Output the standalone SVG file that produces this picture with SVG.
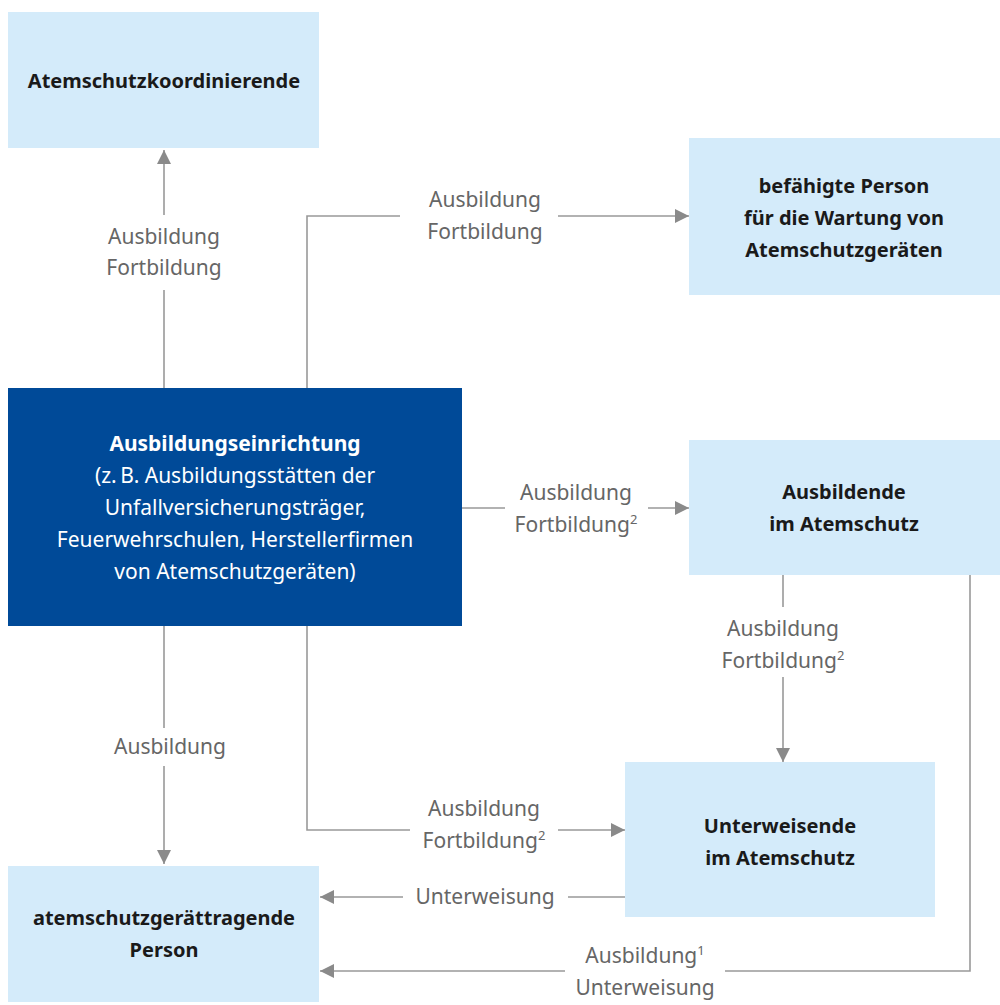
<svg xmlns="http://www.w3.org/2000/svg" width="1000" height="1005" viewBox="0 0 1000 1005">
<defs>
<marker id="ah" viewBox="0 0 14 14" refX="14" refY="7" markerWidth="14" markerHeight="14" markerUnits="userSpaceOnUse" orient="auto">
<path d="M0,0 L14,7 L0,14 z" fill="#8a8a8a"/>
</marker>
<style>
.box{fill:#d4ebfa}
.dark{fill:#004a98}
.nt{font-family:"Noto Sans","Open Sans",sans-serif;font-size:20px;font-weight:bold;fill:#1a1a1a;text-anchor:middle}
.wt{font-family:"Noto Sans","Open Sans",sans-serif;font-size:21px;fill:#ffffff;text-anchor:middle}
.wb{font-weight:bold}
.lb{font-family:"Noto Sans","Open Sans",sans-serif;font-size:21px;fill:#666666;text-anchor:middle}
.ln{fill:none;stroke:#999999;stroke-width:1.6}
.sup{font-size:13px}
</style>
</defs>
<rect width="1000" height="1005" fill="#ffffff"/>
<g id="n-koord">
<rect class="box" x="8" y="12" width="311" height="136"/>
<text class="nt" x="164" y="88">Atemschutzkoordinierende</text>
</g>
<g id="n-befaehigt">
<rect class="box" x="689" y="138" width="311" height="157"/>
<text class="nt" x="844" y="193">befähigte Person</text>
<text class="nt" x="844" y="225">für die Wartung von</text>
<text class="nt" x="844" y="257">Atemschutzgeräten</text>
</g>
<g id="n-einrichtung">
<rect class="dark" x="8" y="388" width="454" height="238"/>
<text class="wt wb" x="235" y="451">Ausbildungseinrichtung</text>
<text class="wt" x="235" y="483">(z.&#8201;B. Ausbildungsstätten der</text>
<text class="wt" x="235" y="515">Unfallversicherungsträger,</text>
<text class="wt" x="235" y="547">Feuerwehrschulen, Herstellerfirmen</text>
<text class="wt" x="235" y="579">von Atemschutzgeräten)</text>
</g>
<g id="n-ausbildende">
<rect class="box" x="689" y="440" width="311" height="135"/>
<text class="nt" x="844" y="499">Ausbildende</text>
<text class="nt" x="844" y="531">im Atemschutz</text>
</g>
<g id="n-unterweisende">
<rect class="box" x="625" y="762" width="310" height="155"/>
<text class="nt" x="780" y="833">Unterweisende</text>
<text class="nt" x="780" y="865">im Atemschutz</text>
</g>
<g id="n-traeger">
<rect class="box" x="8" y="866" width="311" height="136"/>
<text class="nt" x="164" y="925">atemschutzgerättragende</text>
<text class="nt" x="164" y="957">Person</text>
</g>
<g id="connectors">
<path class="ln" d="M164,388 V290"/>
<path class="ln" d="M164,215 V150" marker-end="url(#ah)"/>
<text class="lb" x="164" y="244">Ausbildung</text>
<text class="lb" x="164" y="275">Fortbildung</text>

<path class="ln" d="M307,388 V216 H400"/>
<path class="ln" d="M558,216 H689" marker-end="url(#ah)"/>
<text class="lb" x="485" y="207">Ausbildung</text>
<text class="lb" x="485" y="239">Fortbildung</text>

<path class="ln" d="M462,508 H505"/>
<path class="ln" d="M648,508 H689" marker-end="url(#ah)"/>
<text class="lb" x="576" y="500">Ausbildung</text>
<text class="lb" x="576" y="532">Fortbildung<tspan class="sup" dy="-8">2</tspan></text>

<path class="ln" d="M783,575 V607"/>
<path class="ln" d="M783,677 V762" marker-end="url(#ah)"/>
<text class="lb" x="783" y="636">Ausbildung</text>
<text class="lb" x="783" y="668">Fortbildung<tspan class="sup" dy="-8">2</tspan></text>

<path class="ln" d="M307,626 V830 H410"/>
<path class="ln" d="M558,830 H625" marker-end="url(#ah)"/>
<text class="lb" x="484" y="816">Ausbildung</text>
<text class="lb" x="484" y="848">Fortbildung<tspan class="sup" dy="-8">2</tspan></text>

<path class="ln" d="M164,626 V728"/>
<path class="ln" d="M164,766 V864" marker-end="url(#ah)"/>
<text class="lb" x="170" y="754">Ausbildung</text>

<path class="ln" d="M625,897 H568"/>
<path class="ln" d="M403,897 H320" marker-end="url(#ah)"/>
<text class="lb" x="485" y="904">Unterweisung</text>

<path class="ln" d="M970,575 V971 H725"/>
<path class="ln" d="M565,971 H320" marker-end="url(#ah)"/>
<text class="lb" x="645" y="963">Ausbildung<tspan class="sup" dy="-8">1</tspan></text>
<text class="lb" x="645" y="995">Unterweisung</text>
</g>
</svg>
